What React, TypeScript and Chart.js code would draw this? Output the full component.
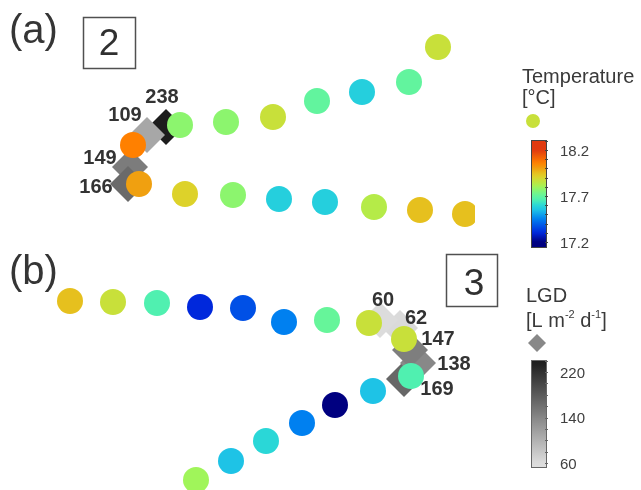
import React, { useEffect, useRef } from 'react';
import { Chart, registerables } from 'chart.js';
Chart.register(...registerables);

const FONT = '"Liberation Sans", Arial, sans-serif';

// ---- Panel (a): temperature along two tracks ----
const aTrack1X = [133, 180, 226, 273, 317, 362, 409, 438];
const aTrack1Y = [145, 125, 122, 117, 101, 92, 82, 47];
const aTrack1T = [18.06, 17.77, 17.77, 17.87, 17.7, 17.58, 17.7, 17.87];

const aTrack2X = [139, 185, 233, 279, 325, 374, 420, 465];
const aTrack2Y = [184, 194, 195, 199, 202, 207, 210, 214];
const aTrack2T = [18.0, 17.91, 17.77, 17.58, 17.58, 17.83, 17.95, 17.95];

// Panel (a): LGD stations
const aLgdX = [166, 147, 130, 128];
const aLgdY = [127, 135, 167, 184];
const aLgd = [238, 109, 149, 166];
const aLabelX = [162, 125, 100, 96];
const aLabelY = [96, 114, 157, 186];

// ---- Panel (b) ----
const bTrack1X = [70, 113, 157, 200, 243, 284, 327, 369, 404];
const bTrack1Y = [301, 302, 303, 307, 308, 322, 320, 323, 339];
const bTrack1T = [17.95, 17.87, 17.66, 17.3, 17.37, 17.45, 17.71, 17.87, 17.87];

const bTrack2X = [411, 373, 335, 302, 266, 231, 196];
const bTrack2Y = [376, 391, 405, 423, 441, 461, 480];
const bTrack2T = [17.66, 17.55, 17.2, 17.45, 17.6, 17.55, 17.8];

const bLgdX = [404, 418, 410, 400, 380];
const bLgdY = [379, 363, 350, 328, 320];
const bLgd = [169, 138, 147, 62, 60];
const bLabelX = [437, 454, 438, 416, 383];
const bLabelY = [388, 363, 338, 317, 299];

// Legend ticks
const tempTicks = [17.2, 17.7, 18.2];
const lgdTicks = [60, 140, 220];

// Temperature colour map
const TEMP_STOPS: [number, string][] = [
  [17.2, '#000080'],
  [17.3, '#0028dc'],
  [17.37, '#0050e6'],
  [17.45, '#0080f0'],
  [17.55, '#1ec3e6'],
  [17.6, '#2ad7d7'],
  [17.66, '#50f0b0'],
  [17.71, '#66f59a'],
  [17.77, '#8cf56e'],
  [17.8, '#a0f55a'],
  [17.83, '#b5eb48'],
  [17.87, '#c8e03a'],
  [17.91, '#ddd22a'],
  [17.95, '#e6c01e'],
  [18.0, '#f0a010'],
  [18.06, '#ff8000'],
  [18.2, '#e03a10'],
];

function hexRgb(h: string) {
  return [parseInt(h.slice(1, 3), 16), parseInt(h.slice(3, 5), 16), parseInt(h.slice(5, 7), 16)];
}

function tempColor(v: number) {
  if (v <= TEMP_STOPS[0][0]) return TEMP_STOPS[0][1];
  const last = TEMP_STOPS[TEMP_STOPS.length - 1];
  if (v >= last[0]) return last[1];
  for (let i = 0; i < TEMP_STOPS.length - 1; i++) {
    const [v0, c0] = TEMP_STOPS[i];
    const [v1, c1] = TEMP_STOPS[i + 1];
    if (v >= v0 && v <= v1) {
      const t = (v - v0) / (v1 - v0);
      const a = hexRgb(c0), b = hexRgb(c1);
      const c = a.map((x, k) => Math.round(x + (b[k] - x) * t));
      return `rgb(${c[0]},${c[1]},${c[2]})`;
    }
  }
  return last[1];
}

function lgdColor(v: number) {
  let g = 220 - ((v - 60) * 172) / 160;
  g = Math.max(28, Math.min(222, Math.round(g)));
  return `rgb(${g},${g},${g})`;
}

const pts = (xs: number[], ys: number[]) => xs.map((x, i) => ({ x, y: ys[i] }));

const circleClip = { left: false, top: false, right: 0, bottom: false } as any;

function tempDataset(xs: number[], ys: number[], ts: number[]) {
  return {
    data: pts(xs, ys),
    pointStyle: 'circle',
    pointRadius: 13,
    pointHoverRadius: 13,
    pointBackgroundColor: ts.map(tempColor),
    pointBorderWidth: 0,
    showLine: false,
    order: 0,
    clip: circleClip,
  };
}

function lgdDataset(xs: number[], ys: number[], vs: number[]) {
  return {
    data: pts(xs, ys),
    pointStyle: 'rectRot',
    pointRadius: 18,
    pointHoverRadius: 18,
    pointBackgroundColor: vs.map(lgdColor),
    pointBorderWidth: 0,
    showLine: false,
    order: 1,
    clip: circleClip,
  };
}

const decorPlugin = {
  id: 'decor',
  afterDraw(chart: any) {
    const ctx: CanvasRenderingContext2D = chart.ctx;
    const sx = chart.scales.x;
    const sy = chart.scales.y;
    ctx.save();

    // Panel letters
    ctx.fillStyle = '#353535';
    ctx.textAlign = 'left';
    ctx.textBaseline = 'alphabetic';
    ctx.font = `40px ${FONT}`;
    ctx.fillText('(a)', 9, 43);
    ctx.fillText('(b)', 9, 284);

    // Boxed site numbers
    ctx.strokeStyle = '#505050';
    ctx.lineWidth = 1.5;
    ctx.strokeRect(83.5, 17.5, 52, 51);
    ctx.strokeRect(446.5, 254.5, 51, 52);
    ctx.font = `37px ${FONT}`;
    ctx.textAlign = 'center';
    ctx.fillStyle = '#303030';
    ctx.fillText('2', 109, 55);
    ctx.fillText('3', 474, 295);

    // LGD value labels
    ctx.font = `bold 20px ${FONT}`;
    ctx.fillStyle = '#333';
    ctx.textAlign = 'center';
    const drawLabels = (vals: number[], lx: number[], ly: number[]) => {
      vals.forEach((v, i) => {
        ctx.fillText(String(v), sx.getPixelForValue(lx[i]), sy.getPixelForValue(ly[i]) + 7);
      });
    };
    drawLabels(aLgd, aLabelX, aLabelY);
    drawLabels(bLgd, bLabelX, bLabelY);

    // ---- Temperature legend ----
    ctx.textAlign = 'left';
    ctx.fillStyle = '#3a3a3a';
    ctx.font = `20px ${FONT}`;
    ctx.fillText('Temperature', 522, 83);
    ctx.fillText('[°C]', 522, 104);
    ctx.beginPath();
    ctx.arc(533, 121, 7, 0, Math.PI * 2);
    ctx.fillStyle = tempColor(17.87);
    ctx.fill();

    const tTop = 140, tBot = 247, bx = 531, bw = 15;
    const tY = (v: number) => 242 - (v - 17.2) * 92;
    const tV = (y: number) => 17.2 + (242 - y) / 92;
    const g1 = ctx.createLinearGradient(0, tTop, 0, tBot);
    for (let i = 0; i <= 40; i++) {
      const y = tTop + ((tBot - tTop) * i) / 40;
      g1.addColorStop(i / 40, tempColor(tV(y)));
    }
    ctx.fillStyle = g1;
    ctx.fillRect(bx, tTop, bw, tBot - tTop);
    ctx.strokeStyle = '#444';
    ctx.lineWidth = 1;
    ctx.strokeRect(bx + 0.5, tTop + 0.5, bw, tBot - tTop);
    ctx.beginPath();
    for (let v = 17.2; v <= 18.31; v += 0.1) {
      const y = Math.round(tY(v)) + 0.5;
      ctx.moveTo(bx + bw - 1, y);
      ctx.lineTo(bx + bw + 2, y);
    }
    ctx.stroke();
    ctx.fillStyle = '#404040';
    ctx.font = `15px ${FONT}`;
    tempTicks.forEach((v) => ctx.fillText(v.toFixed(1), 560, tY(v) + 5.5));

    // ---- LGD legend ----
    ctx.fillStyle = '#3a3a3a';
    ctx.font = `20px ${FONT}`;
    ctx.fillText('LGD', 526, 302);
    let x = 526;
    const baseY = 327;
    const seg = (t: string, sup: boolean) => {
      ctx.font = sup ? `11px ${FONT}` : `20px ${FONT}`;
      ctx.fillText(t, x, sup ? baseY - 9 : baseY);
      x += ctx.measureText(t).width;
    };
    seg('[L m', false);
    seg('-2', true);
    seg(' d', false);
    seg('-1', true);
    seg(']', false);

    ctx.beginPath();
    ctx.moveTo(537, 334);
    ctx.lineTo(546, 343);
    ctx.lineTo(537, 352);
    ctx.lineTo(528, 343);
    ctx.closePath();
    ctx.fillStyle = '#888';
    ctx.fill();

    const lTop = 360, lBot = 467;
    const lY = (v: number) => 463 - ((v - 60) * 91) / 160;
    const lV = (y: number) => 60 + ((463 - y) * 160) / 91;
    const g2 = ctx.createLinearGradient(0, lTop, 0, lBot);
    for (let i = 0; i <= 20; i++) {
      const y = lTop + ((lBot - lTop) * i) / 20;
      g2.addColorStop(i / 20, lgdColor(lV(y)));
    }
    ctx.fillStyle = g2;
    ctx.fillRect(bx, lTop, bw, lBot - lTop);
    ctx.strokeStyle = '#666';
    ctx.strokeRect(bx + 0.5, lTop + 0.5, bw, lBot - lTop);
    ctx.beginPath();
    for (let v = 60; v <= 240; v += 20) {
      const y = Math.round(lY(v)) + 0.5;
      ctx.moveTo(bx + bw - 1, y);
      ctx.lineTo(bx + bw + 2, y);
    }
    ctx.stroke();
    ctx.fillStyle = '#404040';
    ctx.font = `15px ${FONT}`;
    lgdTicks.forEach((v) => ctx.fillText(String(v), 560, lY(v) + 5.5));

    ctx.restore();
  },
};

export default function App() {
  const ref = useRef<HTMLCanvasElement>(null);
  useEffect(() => {
    if (!ref.current) return;
    const chart = new Chart(ref.current, {
      type: 'scatter',
      data: {
        datasets: [
          tempDataset(aTrack1X, aTrack1Y, aTrack1T),
          tempDataset(aTrack2X, aTrack2Y, aTrack2T),
          tempDataset(bTrack1X, bTrack1Y, bTrack1T),
          tempDataset(bTrack2X, bTrack2Y, bTrack2T),
          lgdDataset(aLgdX, aLgdY, aLgd),
          lgdDataset(bLgdX, bLgdY, bLgd),
        ] as any,
      },
      options: {
        animation: false,
        responsive: false,
        devicePixelRatio: 1,
        layout: { autoPadding: false, padding: { left: 0, top: 0, bottom: 0, right: 166 } },
        scales: {
          x: { type: 'linear', min: 0, max: 475, display: false },
          y: { type: 'linear', min: 0, max: 490, reverse: true, display: false },
        },
        plugins: { legend: { display: false }, tooltip: { enabled: false } },
        events: [],
      } as any,
      plugins: [decorPlugin],
    });
    return () => chart.destroy();
  }, []);
  return (
    <div style={{ position: 'absolute', left: 0, top: 0, width: 641, height: 490, background: '#fff' }}>
      <canvas ref={ref} width={641} height={490} style={{ display: 'block' }} />
    </div>
  );
}
